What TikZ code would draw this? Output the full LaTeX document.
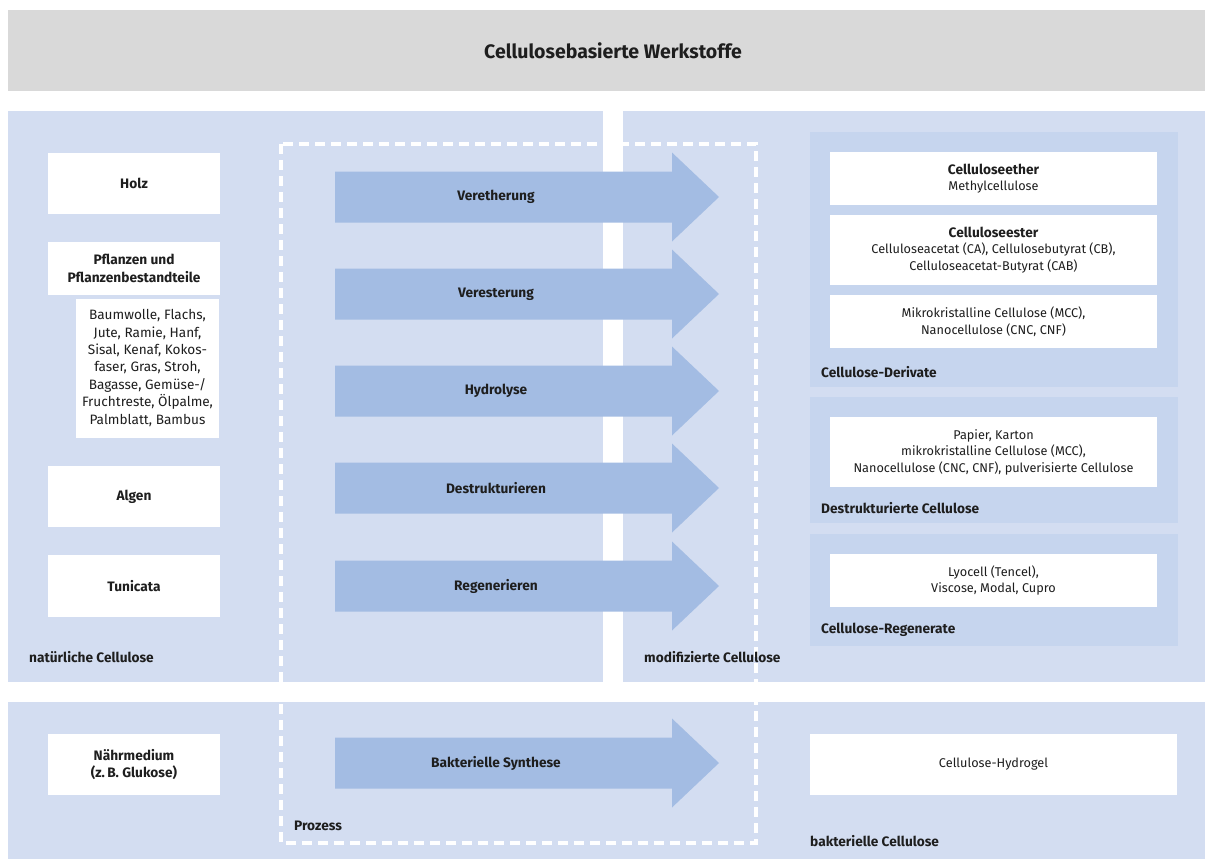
\documentclass[tikz,border=0pt]{standalone}
\usepackage{fontspec}
\setmainfont{Fira Sans}
\definecolor{panel}{HTML}{D3DDF1}
\definecolor{subpanel}{HTML}{C6D5EE}
\definecolor{arrowc}{HTML}{A3BCE3}
\definecolor{titlec}{HTML}{D9D9D9}
\definecolor{txt}{HTML}{1E1E1E}
\begin{document}
\begin{tikzpicture}[x=1pt,y=-1pt,
  every node/.style={text=txt, font=\fontsize{12.7}{16.5}\selectfont},
  bx/.style={fill=white, draw=none, align=center, inner sep=0pt},
  lbl/.style={font=\fontsize{13.7}{17}\selectfont\bfseries, anchor=west, inner sep=0pt},
  bt/.style={font=\fontsize{13.7}{17.5}\selectfont\bfseries},
  proc/.style={fill=arrowc, draw=none},
  dashbox/.style={draw=white, line width=3.5pt, dash pattern=on 10pt off 6pt}
]
\useasboundingbox (0,0) rectangle (1205,859);
\fill[white] (0,0) rectangle (1205,859);
% title
\fill[titlec] (8,10) rectangle (1205,91);
\node[font=\fontsize{19.5}{23}\selectfont\bfseries] (title) at (613,51) {Cellulosebasierte Werkstoffe};
% panels
\fill[panel] (8,111) rectangle (603,682);
\fill[panel] (623,111) rectangle (1205,682);
\fill[panel] (8,702) rectangle (1205,859);
% sub panels
\fill[subpanel] (810,132) rectangle (1178,387);
\fill[subpanel] (810,397) rectangle (1178,523);
\fill[subpanel] (810,534) rectangle (1178,646);
% dashed process box
\draw[dashbox] (281,144) rectangle (756,843);
% left boxes
\node[bx, minimum width=172pt, minimum height=61pt, bt] (holz) at (134,183) {Holz};
\node[bx, minimum width=172pt, minimum height=53pt, bt] (pflanzen) at (134,268.5) {Pflanzen und\\Pflanzenbestandteile};
\node[bx, minimum width=143pt, minimum height=139pt, font=\fontsize{13.6}{17.4}\selectfont] (liste) at (147.5,368) {Baumwolle, Flachs,\\Jute, Ramie, Hanf,\\Sisal, Kenaf, Kokos-\\faser, Gras, Stroh,\\Bagasse, Gemüse-/\\Fruchtreste, Ölpalme,\\Palmblatt, Bambus};
\node[bx, minimum width=172pt, minimum height=61pt, bt] (algen) at (134,496.5) {Algen};
\node[bx, minimum width=172pt, minimum height=62pt, bt] (tunicata) at (134,586) {Tunicata};
\node[lbl] (natl) at (29,657) {natürliche Cellulose};
\node[lbl] (modl) at (644,657) {modifizierte Cellulose};
% process arrows
\foreach \yc/\nm/\tx in {197/a1/Veretherung, 294/a2/Veresterung, 391/a3/Hydrolyse, 488/a4/Destrukturieren, 586/a5/Regenerieren, 763/a6/Bakterielle Synthese}{
  \fill[proc] (335,\yc-25.5) -- (672,\yc-25.5) -- (672,\yc-44.5) -- (719,\yc) -- (672,\yc+44.5) -- (672,\yc+25.5) -- (335,\yc+25.5) -- cycle;
  \node[bt] (\nm) at (496,\yc) {\tx};
}
% right boxes
\node[bx, minimum width=327pt, minimum height=53pt] (ether) at (993.5,178.5) {\textbf{\fontsize{13.7}{16.5}\selectfont Celluloseether}\\Methylcellulose};
\node[bx, minimum width=327pt, minimum height=70pt] (ester) at (993.5,250) {\textbf{\fontsize{13.7}{16.5}\selectfont Celluloseester}\\Celluloseacetat (CA), Cellulosebutyrat (CB),\\Celluloseacetat-Butyrat (CAB)};
\node[bx, minimum width=327pt, minimum height=53pt] (mcc) at (993.5,321.5) {Mikrokristalline Cellulose (MCC),\\Nanocellulose (CNC, CNF)};
\node[lbl] (derl) at (821,372) {Cellulose-Derivate};
\node[bx, minimum width=327pt, minimum height=70pt] (papier) at (993.5,452) {Papier, Karton\\mikrokristalline Cellulose (MCC),\\Nanocellulose (CNC, CNF), pulverisierte Cellulose};
\node[lbl] (desl) at (821,508) {Destrukturierte Cellulose};
\node[bx, minimum width=327pt, minimum height=53pt] (lyo) at (993.5,580.5) {Lyocell (Tencel),\\Viscose, Modal, Cupro};
\node[lbl] (regl) at (821,630) {Cellulose-Regenerate};
% bottom row
\node[bx, minimum width=172pt, minimum height=61pt, bt] (naehr) at (134,764.5) {Nährmedium\\(z.\,B. Glukose)};
\node[bx, minimum width=367pt, minimum height=61pt] (hydro) at (993.5,764.5) {Cellulose-Hydrogel};
\node[lbl] (prozl) at (294,826) {Prozess};
\node[lbl] (bakl) at (810,841) {bakterielle Cellulose};
\end{tikzpicture}
\end{document}
